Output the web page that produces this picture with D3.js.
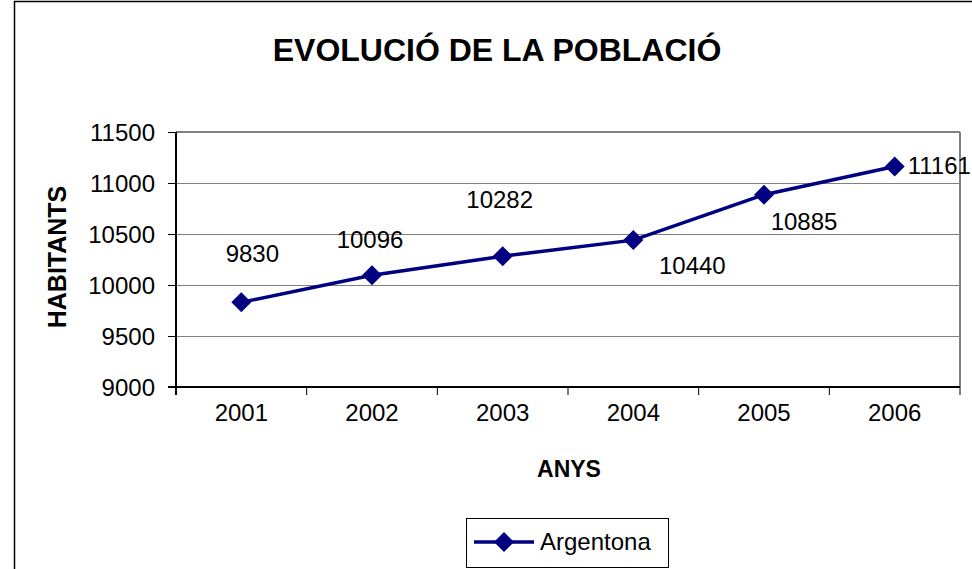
<!DOCTYPE html>
<html>
<head>
<meta charset="utf-8">
<script src="https://cdn.jsdelivr.net/npm/d3@7"></script>
<style>
  body { margin: 0; background: #fff; }
  svg text { font-family: "Liberation Sans", Arial, sans-serif; fill: #000; }
  .axis path { display: none; }
  .axis line { stroke: #000; stroke-width: 1; }
  .grid line { stroke: #808080; stroke-width: 1; }
</style>
</head>
<body>
<div id="chart"></div>
<script>
// data
var years = ["2001", "2002", "2003", "2004", "2005", "2006"];
var habitants = [9830, 10096, 10282, 10440, 10885, 11161];
var yTicks = [9000, 9500, 10000, 10500, 11000, 11500];
var seriesName = "Argentona";

var width = 972, height = 569;
var margin = { top: 132, right: 12, bottom: 182, left: 176 };
var w = width - margin.left - margin.right,
    h = height - margin.top - margin.bottom;

var svg = d3.select("#chart").append("svg")
  .attr("width", width).attr("height", height);

// outer chart frame (runs past the bottom/right of the picture)
svg.append("rect").attr("x", 14.5).attr("y", 1.5)
  .attr("width", 1000).attr("height", 700)
  .attr("fill", "none").attr("stroke", "#000").attr("stroke-width", 1.5);

svg.append("text").attr("x", 497).attr("y", 61)
  .attr("text-anchor", "middle").attr("font-size", 32).attr("font-weight", "bold")
  .text("EVOLUCIÓ DE LA POBLACIÓ");

var x = d3.scaleBand().domain(years).range([0, w]).paddingInner(0).paddingOuter(0);
var y = d3.scaleLinear().domain([9000, 11500]).range([h, 0]);

var g = svg.append("g").attr("transform", "translate(" + margin.left + "," + margin.top + ")");

// gridlines
g.append("g").attr("class", "grid")
  .call(d3.axisLeft(y).tickValues(yTicks.slice(1, -1)).tickSize(-w).tickFormat(""))
  .call(function(s) { s.select(".domain").remove(); });

// plot frame: grey top/right, black axes
g.append("line").attr("x1", 0).attr("x2", w).attr("y1", 0).attr("y2", 0)
  .attr("stroke", "#808080").attr("stroke-width", 2);
g.append("line").attr("x1", w).attr("x2", w).attr("y1", 0).attr("y2", h)
  .attr("stroke", "#808080").attr("stroke-width", 2);
g.append("line").attr("x1", 0).attr("x2", 0).attr("y1", 0).attr("y2", h + 8)
  .attr("stroke", "#000").attr("stroke-width", 2);
g.append("line").attr("x1", -8).attr("x2", w).attr("y1", h).attr("y2", h)
  .attr("stroke", "#000").attr("stroke-width", 2);

// y axis
g.append("g").attr("class", "axis")
  .call(d3.axisLeft(y).tickValues(yTicks).tickSize(8).tickPadding(13).tickFormat(d3.format("d")))
  .selectAll("text").attr("font-size", 24).attr("dy", "0.35em");

// x axis: labels at band centres, ticks at band edges
g.append("g").attr("class", "axis").attr("transform", "translate(0," + h + ")")
  .call(d3.axisBottom(x).tickSize(0).tickPadding(26))
  .selectAll("text").attr("font-size", 24).attr("dy", "0.35em");
g.append("g").attr("class", "axis").selectAll("line")
  .data(years.concat(["end"])).enter().append("line")
  .attr("x1", function(d) { return d === "end" ? w : x(d); })
  .attr("x2", function(d) { return d === "end" ? w : x(d); })
  .attr("y1", h).attr("y2", h + 8);

// axis titles
svg.append("text").attr("x", 569).attr("y", 477)
  .attr("text-anchor", "middle").attr("font-size", 23).attr("font-weight", "bold")
  .text("ANYS");
svg.append("text")
  .attr("transform", "translate(66,257) rotate(-90)")
  .attr("text-anchor", "middle").attr("font-size", 25).attr("font-weight", "bold")
  .text("HABITANTS");

var cx = function(d, i) { return x(years[i]) + x.bandwidth() / 2; };
var diamond = function(s) { return "M0," + (-s) + "L" + s + ",0L0," + s + "L" + (-s) + ",0Z"; };

var line = d3.line()
  .x(function(d, i) { return cx(d, i); })
  .y(function(d) { return y(d); });

g.append("path").datum(habitants)
  .attr("d", line).attr("fill", "none")
  .attr("stroke", "#000080").attr("stroke-width", 3.5);

g.selectAll("path.marker").data(habitants).enter().append("path")
  .attr("class", "marker")
  .attr("transform", function(d, i) { return "translate(" + cx(d, i) + "," + y(d) + ")"; })
  .attr("d", diamond(10)).attr("fill", "#000080");

// data labels were dragged around by hand in the original
var nudge = [[11, -40, "middle"], [-2, -27, "middle"], [-3, -48, "middle"],
             [59, 34, "middle"], [40, 35, "middle"], [13, 7.5, "start"]];
g.selectAll("text.lbl").data(habitants).enter().append("text")
  .attr("class", "lbl")
  .attr("x", function(d, i) { return cx(d, i) + nudge[i][0]; })
  .attr("y", function(d, i) { return y(d) + nudge[i][1]; })
  .attr("text-anchor", function(d, i) { return nudge[i][2]; })
  .attr("font-size", 24)
  .text(function(d) { return d; });

// legend
var lg = svg.append("g").attr("transform", "translate(466,518)");
lg.append("rect").attr("x", 0.5).attr("y", 0.5).attr("width", 202).attr("height", 49)
  .attr("fill", "#fff").attr("stroke", "#000").attr("stroke-width", 1);
lg.append("line").attr("x1", 8).attr("x2", 68).attr("y1", 24).attr("y2", 24)
  .attr("stroke", "#000080").attr("stroke-width", 3.5);
lg.append("path").attr("transform", "translate(38,24)").attr("d", diamond(10)).attr("fill", "#000080");
lg.append("text").attr("x", 74).attr("y", 32).attr("font-size", 24).text(seriesName);
</script>
</body>
</html>
